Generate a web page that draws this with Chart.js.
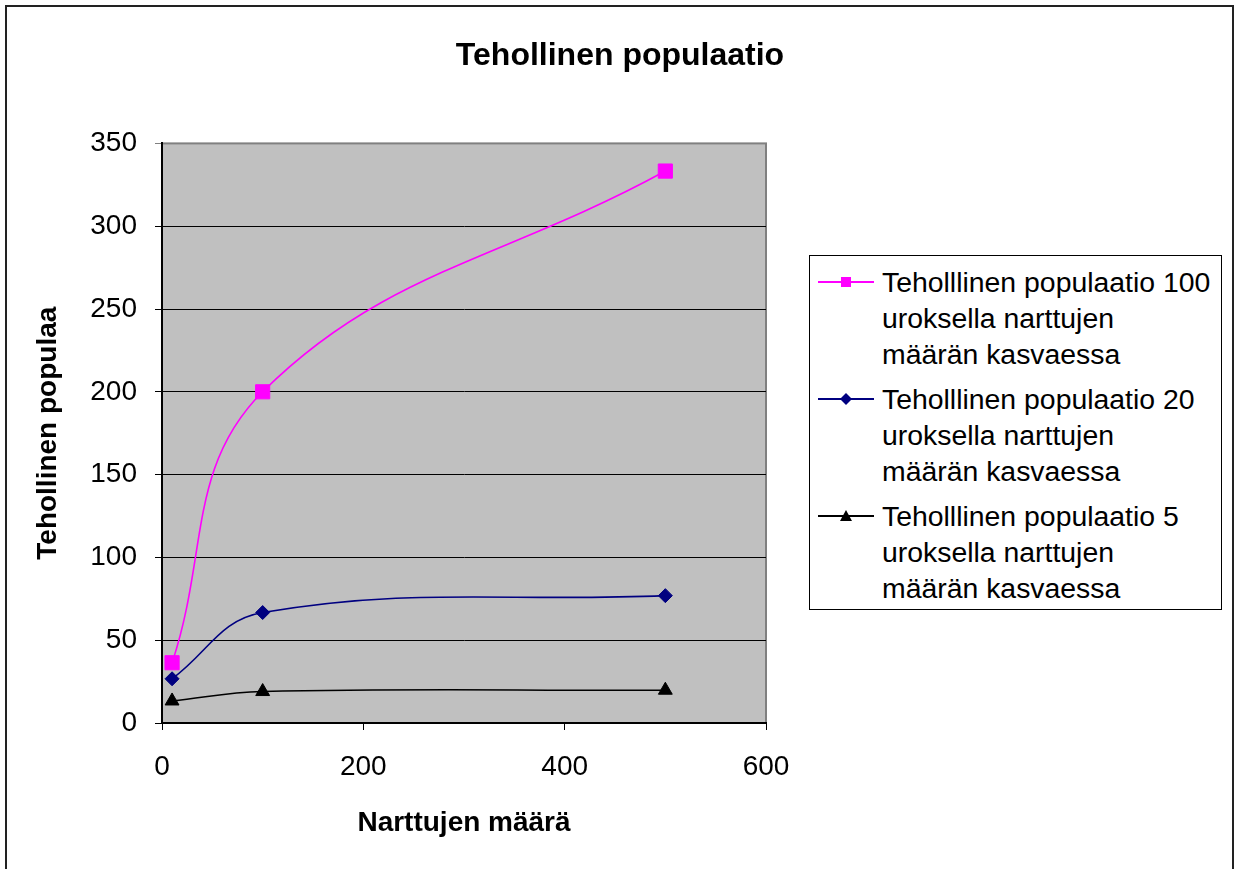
<!DOCTYPE html>
<html>
<head>
<meta charset="utf-8" />
<script src="https://cdn.jsdelivr.net/npm/chart.js@4/dist/chart.umd.min.js"></script>
<style>
  body {
    margin: 0;
    background: #ffffff;
    font-family: "Liberation Sans", Arial, sans-serif;
  }
  #wrap {
    position: relative;
    width: 1240px;
    height: 869px;
    overflow: hidden;
  }
  #frame {
    position: absolute;
    left: 5px;
    top: 5px;
    width: 1229px;
    height: 900px;
    border: 2px solid #222222;
    box-sizing: border-box;
  }
  #line_chart {
    position: absolute;
    left: 0;
    top: 0;
  }
  #legend {
    position: absolute;
    left: 809px;
    top: 255px;
    width: 413px;
    height: 355px;
    border: 1px solid #000000;
    box-sizing: border-box;
    background: #ffffff;
    padding-top: 8px;
    font-size: 28.4px;
    line-height: 36px;
    color: #000000;
  }
  .entry {
    position: relative;
    margin-bottom: 9px;
  }
  .entry svg {
    position: absolute;
    left: 8px;
    top: 8px;
  }
  .entry div {
    margin-left: 72px;
  }
</style>
</head>
<body>
<div id="wrap">
  <div id="frame"></div>
  <canvas id="line_chart" width="1240" height="869"></canvas>
  <div id="legend"></div>
</div>
<script>
const narttujenMaara = [10, 100, 500]
const uros100 = [36.4, 200, 333.3]
const uros20 = [26.7, 66.7, 76.9]
const uros5 = [13.3, 19.0, 19.8]

const seriesLabels = [
  ["Teholllinen populaatio 100", "uroksella narttujen", "määrän kasvaessa"],
  ["Teholllinen populaatio 20", "uroksella narttujen", "määrän kasvaessa"],
  ["Teholllinen populaatio 5", "uroksella narttujen", "määrän kasvaessa"],
]
const seriesColors = ["#ff00ff", "#000080", "#000000"]
const seriesMarkers = ["rect", "rectRot", "triangle"]
const seriesValues = [uros100, uros20, uros5]
const markerRadius = [10, 7, 8]

const plotBackground = {
  id: "plotBackground",
  beforeDraw(chart) {
    const { ctx, chartArea } = chart
    ctx.save()
    ctx.fillStyle = "#c0c0c0"
    ctx.fillRect(
      chartArea.left,
      chartArea.top,
      chartArea.right - chartArea.left,
      chartArea.bottom - chartArea.top,
    )
    ctx.strokeStyle = "#808080"
    ctx.lineWidth = 2
    ctx.strokeRect(
      chartArea.left,
      chartArea.top,
      chartArea.right - chartArea.left,
      chartArea.bottom - chartArea.top,
    )
    ctx.restore()
  },
}

new Chart(document.getElementById("line_chart"), {
  type: "scatter",
  plugins: [plotBackground],
  options: {
    responsive: false,
    animation: false,
    devicePixelRatio: 1,
    layout: {
      padding: 0,
    },
    scales: {
      x: {
        type: "linear",
        min: 0,
        max: 600,
        ticks: {
          stepSize: 200,
          color: "#000000",
          padding: 20,
          font: { family: "Liberation Sans", size: 28 },
        },
        grid: {
          drawOnChartArea: false,
          drawTicks: true,
          tickLength: 7,
          color: "#000000",
        },
        border: { color: "#000000", width: 2 },
        title: {
          display: true,
          text: "Narttujen määrä",
          color: "#000000",
          font: { family: "Liberation Sans", size: 28, weight: "bold" },
          padding: { top: 0, bottom: 29 },
        },
        afterFit: (scale) => {
          scale.height = 146
        },
      },
      y: {
        min: 0,
        max: 350,
        ticks: {
          stepSize: 50,
          color: "#000000",
          padding: 18,
          font: { family: "Liberation Sans", size: 28 },
        },
        grid: {
          tickLength: 7,
          lineWidth: 1,
          color: (ctx) => (ctx.tick && ctx.tick.value === 350 ? "#808080" : "#000000"),
        },
        border: { color: "#000000", width: 2 },
        title: {
          display: true,
          text: "Tehollinen populaa",
          color: "#000000",
          font: { family: "Liberation Sans", size: 28, weight: "bold" },
          padding: { top: 31, bottom: 0 },
        },
        afterFit: (scale) => {
          scale.width = 162
        },
      },
      // empty right axis only keeps the space where the legend sits
      spacer: {
        type: "linear",
        position: "right",
        min: 0,
        max: 350,
        grid: { display: false },
        border: { display: false },
        ticks: { display: false },
        afterFit: (scale) => {
          scale.width = 474
        },
      },
    },
    plugins: {
      legend: {
        display: false,
      },
      tooltip: {
        enabled: false,
      },
      title: {
        display: true,
        text: "Tehollinen populaatio",
        color: "#000000",
        font: { family: "Liberation Sans", size: 32, weight: "bold" },
        padding: { top: 37, bottom: 68 },
      },
    },
  },
  data: {
    datasets: seriesValues.map((values, i) => ({
      label: seriesLabels[i].join(" "),
      data: values.map((v, j) => ({ x: narttujenMaara[j], y: v })),
      showLine: true,
      tension: 0.4,
      borderColor: seriesColors[i],
      backgroundColor: seriesColors[i],
      borderWidth: 1.6,
      pointStyle: seriesMarkers[i],
      pointRadius: markerRadius[i],
      pointBorderWidth: 1,
    })),
  },
})

// legend drawn as html so the labels can wrap on three lines
const markerSvg = {
  rect: (c) => `<rect x="23" y="5" width="10" height="10" fill="${c}" />`,
  rectRot: (c) => `<polygon points="28,4 34,10 28,16 22,10" fill="${c}" />`,
  triangle: (c) => `<polygon points="28,4 34,15 22,15" fill="${c}" />`,
}
const legendBox = document.getElementById("legend")
seriesLabels.forEach((lines, i) => {
  const entry = document.createElement("div")
  entry.className = "entry"
  entry.innerHTML =
    `<svg width="56" height="20"><line x1="0" y1="10" x2="56" y2="10" stroke="${seriesColors[i]}" stroke-width="2" />` +
    markerSvg[seriesMarkers[i]](seriesColors[i]) +
    `</svg><div>${lines.join("<br>")}</div>`
  legendBox.appendChild(entry)
})
</script>
</body>
</html>
